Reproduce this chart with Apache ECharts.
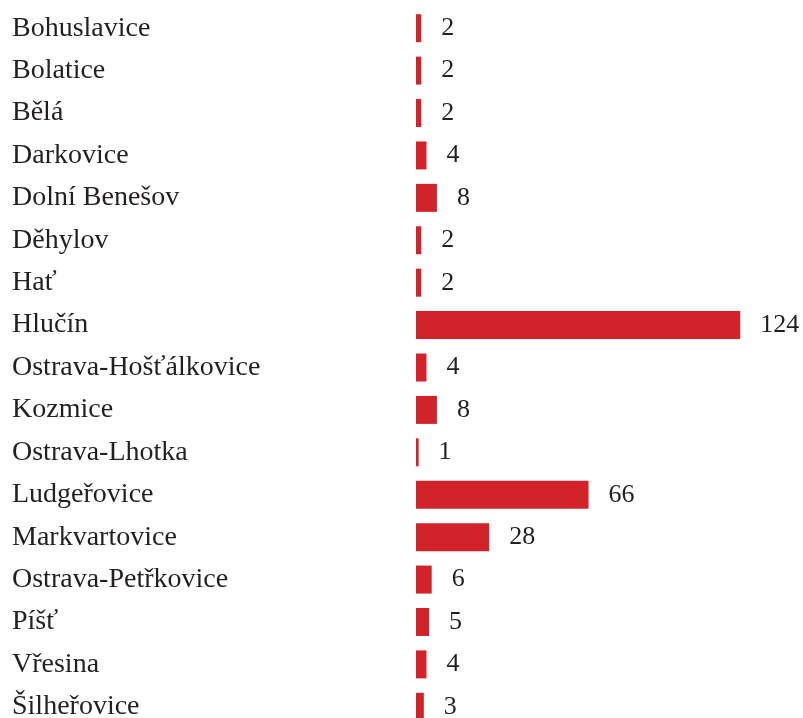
<!DOCTYPE html>
<html>
<head>
<meta charset="utf-8">
<script src="https://cdn.jsdelivr.net/npm/echarts@6/dist/echarts.min.js"></script>
<style>
  html, body { margin: 0; padding: 0; background: #fff; }
  #chart { width: 803px; height: 718px; }
</style>
</head>
<body>
<div id="chart"></div>
<script>
const categories = [
  'Bohuslavice', 'Bolatice', 'Bělá', 'Darkovice', 'Dolní Benešov', 'Děhylov',
  'Hať', 'Hlučín', 'Ostrava-Hošťálkovice', 'Kozmice', 'Ostrava-Lhotka',
  'Ludgeřovice', 'Markvartovice', 'Ostrava-Petřkovice', 'Píšť', 'Vřesina',
  'Šilheřovice'
]
const values = [2, 2, 2, 4, 8, 2, 2, 124, 4, 8, 1, 66, 28, 6, 5, 4, 3]

const chart = echarts.init(document.getElementById('chart'))
chart.setOption({
  animation: false,
  grid: {
    left: 416,
    top: 7,
    width: 366,
    height: 721,
    containLabel: false,
    outerBoundsMode: 'none'
  },
  xAxis: {
    type: 'value',
    min: 0,
    max: 140,
    show: false
  },
  yAxis: {
    type: 'category',
    data: categories,
    inverse: true,
    axisLine: { show: false },
    axisTick: { show: false },
    axisLabel: {
      align: 'left',
      margin: 404,
      color: '#231f20',
      fontFamily: 'Liberation Serif',
      fontSize: 28,
      padding: [10, 0, 0, 0]
    }
  },
  series: [
    {
      type: 'bar',
      data: values,
      barCategoryGap: '34%',
      itemStyle: {
        color: '#d2232a'
      },
      label: {
        show: true,
        position: 'right',
        distance: 20,
        color: '#231f20',
        fontFamily: 'Liberation Serif',
        fontSize: 26,
        padding: [10, 0, 0, 0]
      }
    }
  ]
})
</script>
</body>
</html>
